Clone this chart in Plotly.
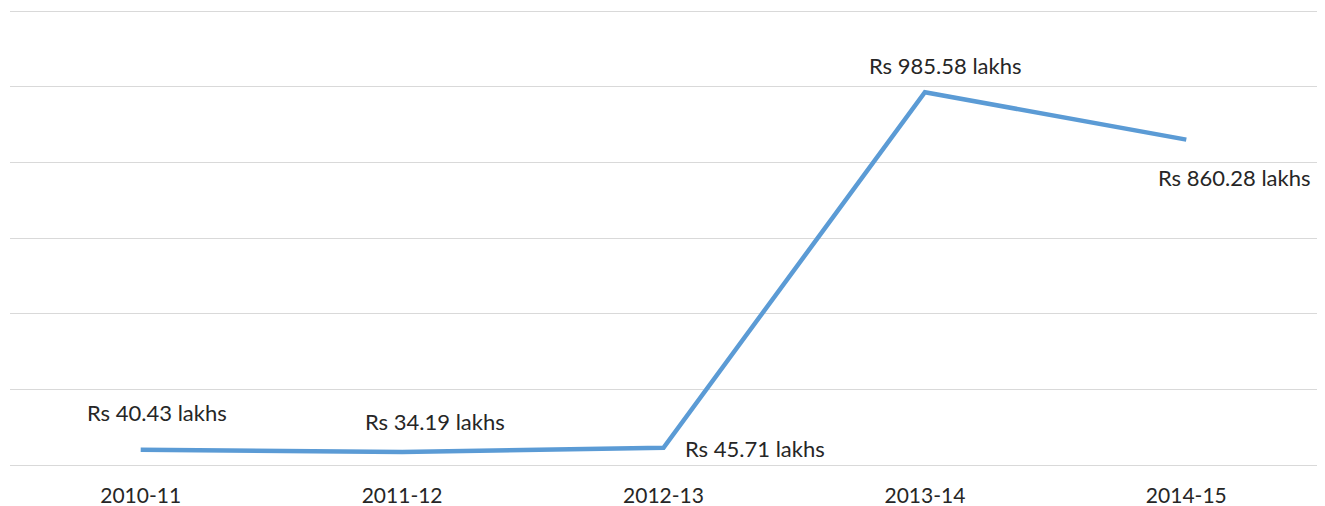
import plotly.graph_objects as go

years = ["2010-11", "2011-12", "2012-13", "2013-14", "2014-15"]
values = [40.43, 34.19, 45.71, 985.58, 860.28]
labels = ["Rs 40.43 lakhs", "Rs 34.19 lakhs", "Rs 45.71 lakhs", "Rs 985.58 lakhs", "Rs 860.28 lakhs"]

# label offsets (styling) relative to each point
label_style = [
    dict(xshift=16, yshift=37, xanchor="center"),
    dict(xshift=33, yshift=31, xanchor="center"),
    dict(xshift=19, yshift=-1, xanchor="left"),
    dict(xshift=21, yshift=27, xanchor="center"),
    dict(xshift=48, yshift=-38, xanchor="center"),
]

FONT = "Lato, 'Open Sans', sans-serif"
FS = 21
LFS = 22

fig = go.Figure()
fig.add_trace(go.Scatter(
    x=years, y=values, mode="lines",
    line=dict(color="#5B9BD5", width=4.5),
    hoverinfo="x+y", showlegend=False,
))

for x, y, t, s in zip(years, values, labels, label_style):
    fig.add_annotation(x=x, y=y, text=t, showarrow=False,
                       font=dict(family=FONT, size=LFS, color="#262626"),
                       yanchor="middle", **s)

fig.update_layout(
    width=1317, height=498,
    margin=dict(l=2, r=8, t=2, b=41, autoexpand=False),
    paper_bgcolor="white", plot_bgcolor="white",
    font=dict(family=FONT, size=FS, color="#262626"),
    xaxis=dict(type="category", range=[-0.5, 4.5], showgrid=False, showline=False,
               zeroline=False, ticks="", ticklabelstandoff=16, automargin=False,
               tickfont=dict(family=FONT, size=FS, color="#262626")),
    yaxis=dict(range=[0, 1203], tick0=0, dtick=200, showticklabels=False, automargin=False,
               showgrid=True, gridcolor="#d9d9d9", gridwidth=1,
               zeroline=True, zerolinecolor="#d9d9d9", zerolinewidth=1,
               showline=False),
)

fig.write_html("out.html")
